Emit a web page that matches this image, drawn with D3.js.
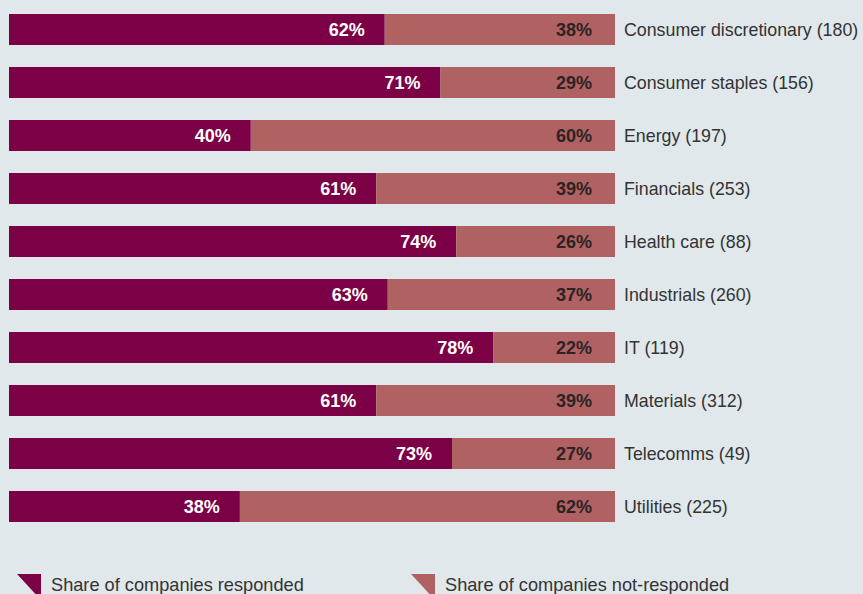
<!DOCTYPE html>
<html><head><meta charset="utf-8">
<script src="https://cdn.jsdelivr.net/npm/d3@7"></script>
<style>
html,body{margin:0;padding:0;background:#e0e8eb;}
svg{display:block;}
text{font-family:"Liberation Sans",Arial,Helvetica,sans-serif;}
</style></head>
<body>
<svg id="chart" width="863" height="594"></svg>
<script>
const categories = ["Consumer discretionary (180)","Consumer staples (156)","Energy (197)","Financials (253)","Health care (88)","Industrials (260)","IT (119)","Materials (312)","Telecomms (49)","Utilities (225)"];
// bar lengths as drawn (share responded, %)
const responded = [62.0,71.2,39.9,60.6,73.8,62.5,79.9,60.6,73.1,38.1];
// printed labels
const respondedLabels = ["62%","71%","40%","61%","74%","63%","78%","61%","73%","38%"];
const notRespondedLabels = ["38%","29%","60%","39%","26%","37%","22%","39%","27%","62%"];
const legendLabels = ["Share of companies responded","Share of companies not-responded"];
const colors = ["#7b0046","#b06161"];

const svg = d3.select("#chart");
svg.append("rect").attr("width",863).attr("height",594).attr("fill","#e0e8eb");

const x = d3.scaleLinear().domain([0,100]).range([9,615]);
const y = d3.scaleBand().domain(categories).range([3,533]).paddingInner(22/53).paddingOuter(11/53);

const rows = svg.selectAll("g.row").data(categories.map((c,i)=>({c, r:responded[i], rl:respondedLabels[i], nl:notRespondedLabels[i]})))
  .enter().append("g").attr("class","row");

rows.append("rect").attr("x",x(0)).attr("y",d=>y(d.c)).attr("width",d=>x(d.r)-x(0))
  .attr("height",y.bandwidth()).attr("fill",colors[0]);
rows.append("rect").attr("x",d=>x(d.r)).attr("y",d=>y(d.c)).attr("width",d=>x(100)-x(d.r))
  .attr("height",y.bandwidth()).attr("fill",colors[1]);

rows.append("text").attr("x",d=>x(d.r)-20).attr("y",d=>y(d.c)+y.bandwidth()/2+6)
  .attr("text-anchor","end").attr("fill","#ffffff").attr("font-weight","bold").attr("font-size",18)
  .text(d=>d.rl);
rows.append("text").attr("x",x(100)-23).attr("y",d=>y(d.c)+y.bandwidth()/2+6)
  .attr("text-anchor","end").attr("fill","#2b2326").attr("font-weight","bold").attr("font-size",18)
  .text(d=>d.nl);
rows.append("text").attr("x",624).attr("y",d=>y(d.c)+y.bandwidth()/2+6)
  .attr("fill","#333333").attr("font-size",17.8)
  .text(d=>d.c);

const legendX = [17,411];
const lg = svg.selectAll("g.legend").data(legendLabels).enter().append("g").attr("class","legend");
lg.append("path").attr("d",(d,i)=>`M${legendX[i]},574 L${legendX[i]+24},574 L${legendX[i]+24},600 Z`).attr("fill",(d,i)=>colors[i]);
lg.append("text").attr("x",(d,i)=>legendX[i]+34).attr("y",591).attr("font-size",18.2).attr("fill","#333333").text(d=>d);
</script>
</body></html>
